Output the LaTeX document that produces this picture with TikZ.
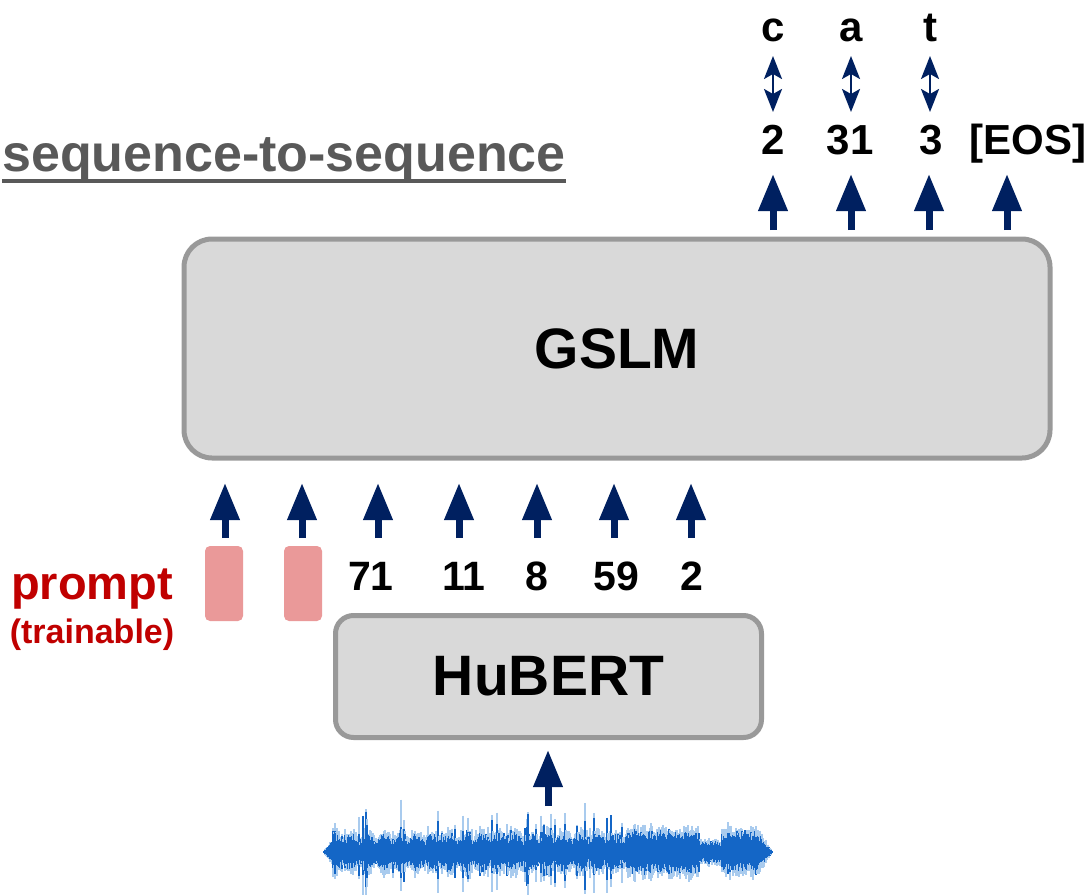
\documentclass[tikz,border=0pt]{standalone}
\usepackage{fontspec}
\setmainfont{Liberation Sans}
\usetikzlibrary{arrows.meta}
\definecolor{navy}{HTML}{002060}
\definecolor{boxgray}{HTML}{D9D9D9}
\definecolor{bordergray}{HTML}{999999}
\definecolor{promptred}{HTML}{C00000}
\definecolor{promptfill}{HTML}{EA9999}
\definecolor{titlegray}{HTML}{595959}
\definecolor{wavedark}{HTML}{1466C6}
\definecolor{wavelight}{HTML}{A9CBEE}
\begin{document}
\begin{tikzpicture}[x=1pt,y=-1pt,
  bigbox/.style={draw=bordergray,line width=5pt,fill=boxgray,font=\fontsize{57}{60}\selectfont\bfseries},
  blockarrow/.style={draw=navy,line width=7pt,-{Triangle[length=37pt,width=28pt]}},
  thinarrow/.style={draw=navy,line width=2.5pt,{Stealth[length=23pt,width=18pt,inset=5pt]}-{Stealth[length=23pt,width=18pt,inset=5pt]}},
  numtxt/.style={font=\fontsize{41}{44}\selectfont\bfseries,inner sep=0pt,anchor=base},
  promptbox/.style={fill=promptfill,rounded corners=5pt,minimum width=38pt,minimum height=75pt,inner sep=0pt}
]
\useasboundingbox (0,0) rectangle (1092,894);

% title
\node[font=\fontsize{52}{56}\selectfont\bfseries,text=titlegray,inner sep=0pt,anchor=base east] (title) at (566,171) {sequence-to-sequence};
\draw[titlegray,line width=4pt] ([yshift=-10pt]title.base west) -- ([yshift=-10pt]title.base east);

% boxes
\node[bigbox,rounded corners=28pt,minimum width=866pt,minimum height=219pt] (gslm) at (617,348.5) {GSLM};
\node[bigbox,rounded corners=18pt,minimum width=426pt,minimum height=122pt] (hubert) at (548.5,676.5) {HuBERT};

% prompt
\node[promptbox] (p1) at (224,583.5) {};
\node[promptbox] (p2) at (303,583.5) {};
\node[font=\fontsize{47}{50}\selectfont\bfseries,text=promptred,inner sep=0pt,anchor=base] (ptxt) at (92,599) {prompt};
\node[font=\fontsize{34}{36}\selectfont\bfseries,text=promptred,inner sep=0pt,anchor=base] (ptrain) at (92,643) {(trainable)};

% input tokens
\node[numtxt] (n1) at (371,590) {71};
\node[numtxt] (n2) at (464,590) {11};
\node[numtxt] (n3) at (537,590) {8};
\node[numtxt] (n4) at (616,590) {59};
\node[numtxt] (n5) at (692,590) {2};

% bottom arrows
\foreach \x [count=\k] in {225,302,378,459,537,614,691} {
  \coordinate (ba\k) at (\x,538);
  \coordinate (bt\k) at (\x,483);
  \draw[blockarrow] (ba\k) -- (bt\k);
}

% top arrows
\foreach \x [count=\k] in {773,851,929,1007} {
  \coordinate (ta\k) at (\x,230);
  \coordinate (tt\k) at (\x,174);
  \draw[blockarrow] (ta\k) -- (tt\k);
}

% output tokens
\node[numtxt,font=\fontsize{42}{44}\selectfont\bfseries] (o1) at (773,154) {2};
\node[numtxt,font=\fontsize{42}{44}\selectfont\bfseries] (o2) at (850,154) {31};
\node[numtxt,font=\fontsize{42}{44}\selectfont\bfseries] (o3) at (931,154) {3};
\node[numtxt,font=\fontsize{42}{44}\selectfont\bfseries] (o4) at (1028,154) {[EOS]};

% letters
\node[numtxt,font=\fontsize{42}{44}\selectfont\bfseries] (l1) at (773,41) {c};
\node[numtxt,font=\fontsize{42}{44}\selectfont\bfseries] (l2) at (851,41) {a};
\node[numtxt,font=\fontsize{42}{44}\selectfont\bfseries] (l3) at (930,41) {t};

\foreach \x [count=\k] in {773,851,930} {
  \coordinate (da\k) at (\x,56);
  \coordinate (db\k) at (\x,112);
  \draw[thinarrow] (da\k) -- (db\k);
}

% hubert input arrow
\coordinate (wa) at (548,806);
\coordinate (wt) at (548,750);
\draw[blockarrow] (wa) -- (wt);

% waveform
\pgfmathsetseed{11}
\foreach \i in {0,...,450} {
  \pgfmathsetmacro\xx{323+\i}
  \pgfmathsetmacro\s{rnd}
  \pgfmathsetmacro\env{(\xx<333)*(\xx-323)*1.3 + (\xx>=333)*(\xx<630)*(11+7*abs(sin(\xx*11))+4*rnd+26*\s^9) + (\xx>=630)*(\xx<700)*(20+6*rnd) + (\xx>=700)*(\xx<722)*(10+3*rnd) + (\xx>=722)*(\xx<760)*(19+6*rnd) + (\xx>=760)*max(0,(773-\xx))*1.4}
  \pgfmathsetmacro\lt{852-\env*(0.8+0.4*rnd)}
  \pgfmathsetmacro\lb{852+\env*(0.8+0.4*rnd)}
  \pgfmathsetmacro\dt{852-\env*(0.55+0.4*rnd)}
  \pgfmathsetmacro\db{852+\env*(0.55+0.4*rnd)}
  \draw[wavelight,line width=1.1pt] (\xx,\lt) -- (\xx,\lb);
  \draw[wavedark,line width=1.1pt] (\xx,\dt) -- (\xx,\db);
}
\end{tikzpicture}
\end{document}
